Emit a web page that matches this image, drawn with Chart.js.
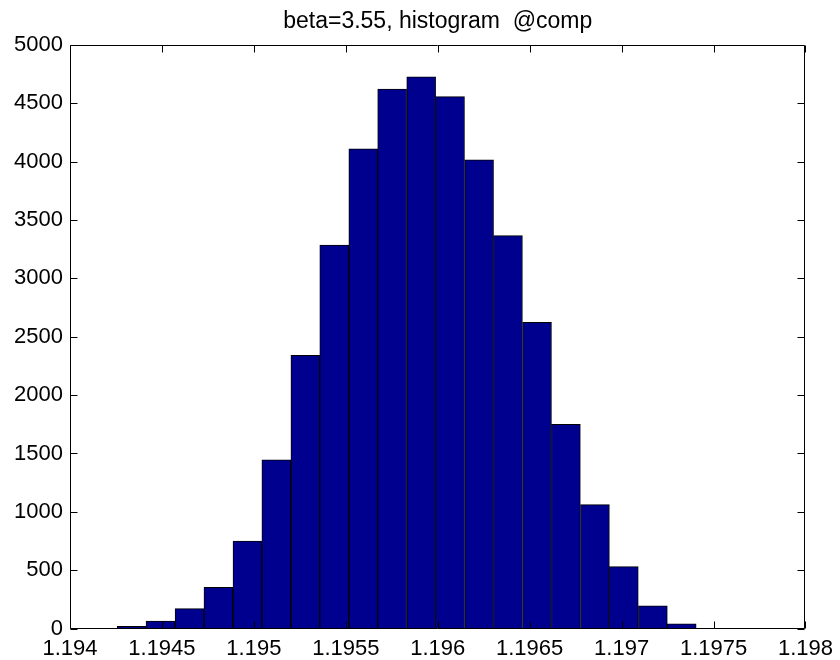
<!DOCTYPE html>
<html>
<head>
<meta charset="utf-8">
<script src="https://cdn.jsdelivr.net/npm/chart.js@4/dist/chart.umd.min.js"></script>
<style>
  html, body { margin: 0; padding: 0; background: #ffffff; }
  #wrap { width: 840px; height: 660px; }
</style>
</head>
<body>
<div id="wrap"><canvas id="hist" width="840" height="660"></canvas></div>
<script>
// Histogram of the computed quantity: bin centres and counts per bin
const binCenters = [
  1.194335, 1.194492, 1.194650, 1.194807, 1.194965,
  1.195122, 1.195280, 1.195437, 1.195595, 1.195752,
  1.195910, 1.196067, 1.196225, 1.196382, 1.196540,
  1.196697, 1.196855, 1.197012, 1.197170, 1.197327
];
const binCounts = [
  18, 64, 170, 353, 750,
  1446, 2341, 3286, 4111, 4623,
  4728, 4557, 4017, 3366, 2624,
  1750, 1061, 530, 195, 41
];
const xTicks = [1.194, 1.1945, 1.195, 1.1955, 1.196, 1.1965, 1.197, 1.1975, 1.198];
const yTicks = [0, 500, 1000, 1500, 2000, 2500, 3000, 3500, 4000, 4500, 5000];
const titleText = 'beta=3.55, histogram  @comp';

const FONT = '"Liberation Sans", Arial, Helvetica, sans-serif';
const TICK_LEN = 7;

// Box around the axes, inward tick marks on all four sides, and the title
const axesFrame = {
  id: 'axesFrame',
  afterDraw(chart) {
    const ctx = chart.ctx;
    const a = chart.chartArea;
    const xs = chart.scales.x, ys = chart.scales.y;
    const L = Math.round(a.left) + 0.5, R = Math.round(a.right) - 0.5;
    const T = Math.round(a.top) + 0.5, B = Math.round(a.bottom) - 0.5;
    ctx.save();
    ctx.strokeStyle = '#000000';
    ctx.lineWidth = 1;
    ctx.beginPath();
    ctx.rect(L, T, R - L, B - T);
    for (const v of xTicks) {
      const px = Math.round(xs.getPixelForValue(v)) + 0.5;
      ctx.moveTo(px, B); ctx.lineTo(px, B - TICK_LEN);
      ctx.moveTo(px, T); ctx.lineTo(px, T + TICK_LEN);
    }
    for (const v of yTicks) {
      const py = Math.round(ys.getPixelForValue(v)) + 0.5;
      ctx.moveTo(L, py); ctx.lineTo(L + TICK_LEN, py);
      ctx.moveTo(R, py); ctx.lineTo(R - TICK_LEN, py);
    }
    ctx.stroke();

    ctx.fillStyle = '#000000';
    ctx.font = '23px ' + FONT;
    ctx.textAlign = 'center';
    ctx.textBaseline = 'alphabetic';
    ctx.fillText(titleText, (a.left + a.right) / 2, 28);
    ctx.restore();
  }
};

function fmtTick(v) {
  return String(parseFloat(Number(v).toFixed(4)));
}

new Chart(document.getElementById('hist'), {
  type: 'bar',
  data: {
    datasets: [{
      data: binCenters.map((c, i) => ({ x: c, y: binCounts[i] })),
      backgroundColor: 'rgb(0,0,143)',
      borderColor: '#000000',
      borderWidth: 1,
      barPercentage: 1.0,
      categoryPercentage: 1.0
    }]
  },
  options: {
    responsive: false,
    animation: false,
    devicePixelRatio: 1,
    layout: { padding: { top: 45, right: 31, left: 0, bottom: 0 } },
    plugins: {
      legend: { display: false },
      title: { display: false },
      tooltip: { enabled: false }
    },
    scales: {
      x: {
        type: 'linear',
        min: 1.194,
        max: 1.198,
        offset: false,
        grid: { display: false, offset: false, drawTicks: false },
        border: { display: false },
        afterBuildTicks(scale) { scale.ticks = xTicks.map(v => ({ value: v })); },
        afterFit(scale) { scale.height = 31.5; },
        ticks: {
          autoSkip: false,
          maxRotation: 0,
          padding: 7,
          color: '#000000',
          font: { family: FONT, size: 22 },
          callback: v => fmtTick(v)
        }
      },
      y: {
        type: 'linear',
        min: 0,
        max: 5000,
        grid: { display: false, drawTicks: false },
        border: { display: false },
        afterBuildTicks(scale) { scale.ticks = yTicks.map(v => ({ value: v })); },
        afterFit(scale) { scale.width = 70; },
        ticks: {
          padding: 7,
          color: '#000000',
          font: { family: FONT, size: 22 },
          callback: v => String(v)
        }
      }
    }
  },
  plugins: [axesFrame]
});
</script>
</body>
</html>
